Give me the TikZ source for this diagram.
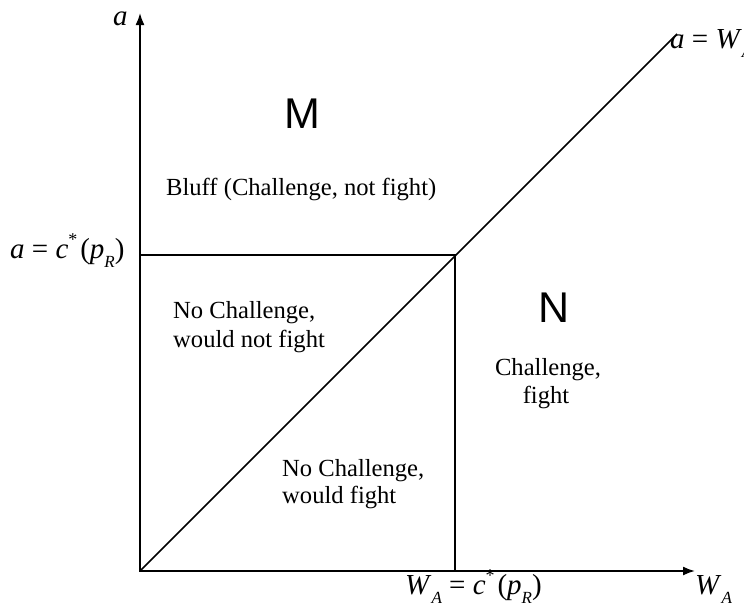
\documentclass[tikz,border=0pt]{standalone}
\usepackage{fontspec}
\setmainfont{Liberation Serif}
\setsansfont{Liberation Sans}
\usetikzlibrary{arrows.meta}
\newcommand{\mysub}[1]{\raisebox{-0.32em}{\fontsize{17}{17}\selectfont\itshape #1}}
\newcommand{\mysup}[1]{\raisebox{0.42em}{\fontsize{18}{18}\selectfont #1}}
\newcommand{\myeq}{\hspace{0.25em}=\hspace{0.25em}}
\tikzset{
  ln/.style={line width=1.7pt},
  axisln/.style={line width=1.7pt,{Latex[length=12pt,width=9pt]}-{Latex[length=12pt,width=9pt]}},
  mathlbl/.style={inner sep=0pt,anchor=base west,font=\fontsize{29}{34}\selectfont},
  txt/.style={inner sep=0pt,font=\fontsize{24.6}{29}\selectfont},
  big/.style={inner sep=0pt,anchor=base,font=\sffamily\fontsize{43}{50}\selectfont}
}
\begin{document}
\begin{tikzpicture}[x=1pt,y=-1pt]
\useasboundingbox (0,0) rectangle (744,608);
\coordinate (O) at (140,571);
\coordinate (Ytop) at (140,13);
\coordinate (Xend) at (695,571);
\coordinate (C) at (455,255);
\coordinate (Ly) at (140,255);
\coordinate (Bx) at (455,571);
\coordinate (D) at (677,34);
\draw[axisln] (Ytop) -- (O) -- (Xend);
\draw[ln] (Ly) -- (C) -- (Bx);
\draw[ln] (O) -- (D);
\node[mathlbl] (alab) at (113,25) {\textit{a}};
\node[mathlbl] (clab) at (10,258) {\textit{a}\myeq\textit{c}\mysup{*}\hspace{0.1em}(\textit{p}\mysub{R})};
\node[mathlbl] (dlab) at (670,48) {\textit{a}\myeq\textit{W}\mysub{A}};
\node[mathlbl] (wlab) at (405,594) {\textit{W}\mysub{A}\myeq\textit{c}\mysup{*}\hspace{0.1em}(\textit{p}\mysub{R})};
\node[mathlbl] (xlab) at (695,594) {\textit{W}\mysub{A}};
\node[big] (M) at (302,128) {M};
\node[big] (N) at (554,322) {N};
\node[txt,anchor=base west] (bluff) at (166,195) {Bluff (Challenge, not fight)};
\node[txt,anchor=base west] (nc1) at (173,318) {No Challenge,};
\node[txt,anchor=base west] (nc2) at (173,347) {would not fight};
\node[txt,anchor=base] (cf1) at (548,375) {Challenge,};
\node[txt,anchor=base] (cf2) at (546,403) {fight};
\node[txt,anchor=base west] (nf1) at (282,476) {No Challenge,};
\node[txt,anchor=base west] (nf2) at (282,503) {would fight};
\end{tikzpicture}
\end{document}
